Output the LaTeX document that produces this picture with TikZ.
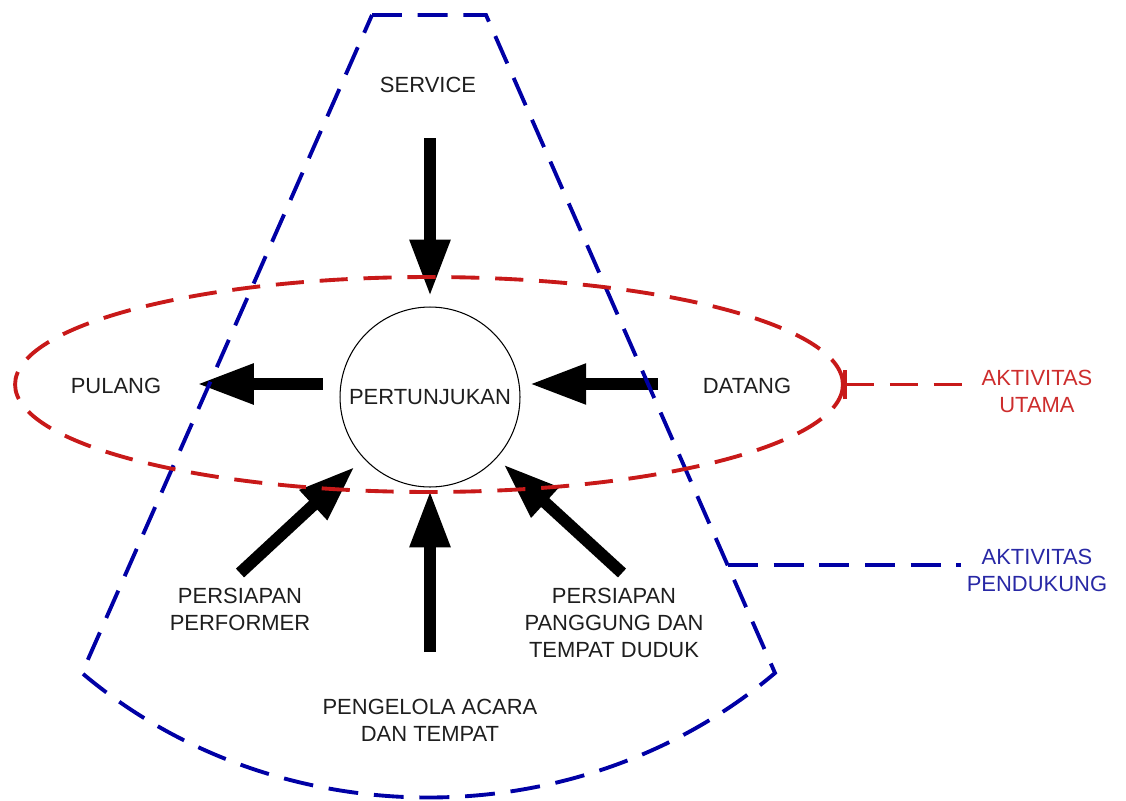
\documentclass[tikz,border=0pt]{standalone}
\usepackage{fontspec}
\setmainfont{Liberation Sans}
\usetikzlibrary{arrows.meta, positioning, shapes.geometric}
\definecolor{birutua}{RGB}{0,0,165}
\definecolor{merahtua}{RGB}{200,25,25}
\definecolor{teksabu}{RGB}{30,30,30}
\definecolor{labelmerah}{RGB}{205,45,45}
\definecolor{labelbiru}{RGB}{40,40,165}

\begin{document}
\begin{tikzpicture}[
  x=0.02cm, y=-0.02cm,
  every node/.style = {font=\fontsize{12.5}{15.3}\selectfont, text=teksabu, align=center},
  garisbiru/.style = {draw=birutua, line width=2.2pt, dash pattern=on 17pt off 9pt},
  garismerah/.style = {draw=merahtua, line width=2.2pt, dash pattern=on 16pt off 9pt},
  panah/.style = {line width=6.8pt, -{Triangle[length=32.3pt, width=21.5pt]}}
]
\useasboundingbox (0,0) rectangle (1126,801);

% pusat
\node[circle, draw=black, line width=0.6pt, minimum size=3.6cm, inner sep=0pt] (pertunjukan) at (430,397) {PERTUNJUKAN};

% teks aktivitas
\node (service)   at (428,85)  {SERVICE};
\node (pulang)    at (116,386) {PULANG};
\node (datang)    at (747,386) {DATANG};
\node (performer) at (240,609) {PERSIAPAN\\PERFORMER};
\node (panggung)  at (614,623) {PERSIAPAN\\PANGGUNG DAN\\TEMPAT DUDUK};
\node (pengelola) at (430,720) {PENGELOLA ACARA\\DAN TEMPAT};

\node[text=labelmerah] (labelUtama)     at (1037,391) {AKTIVITAS\\UTAMA};
\node[text=labelbiru]  (labelPendukung) at (1037,570) {AKTIVITAS\\PENDUKUNG};

% ujung panah
\coordinate (ekorService)   at (430,138);
\coordinate (ujungPulang)   at (197,384);
\coordinate (ekorDatang)    at (658,384);
\coordinate (ekorPerformer) at (240,573);
\coordinate (ekorPanggung)  at (622,573);
\coordinate (ekorPengelola) at (430,652);

\draw[panah, shorten >=5.7pt] (ekorService) -- (pertunjukan);
\draw[panah, shorten <=9.6pt] (pertunjukan.west |- ujungPulang) -- (ujungPulang);
\draw[panah, shorten >=5.1pt] (ekorDatang) -- (pertunjukan.east |- ekorDatang);
\draw[panah, shorten >=6.8pt] (ekorPerformer) -- (pertunjukan);
\draw[panah, shorten >=5.1pt] (ekorPanggung) -- (pertunjukan);
\draw[panah, shorten >=1.7pt] (ekorPengelola) -- (pertunjukan);

% aktivitas pendukung
\draw[garisbiru, line join=miter] (372,15) -- (486,15) -- (775,673)
  .. controls (579,839) and (278,839) .. (82,673) -- cycle;

% aktivitas utama
\node[ellipse, garismerah, minimum width=16.56cm, minimum height=4.3cm,
  inner sep=0pt, outer sep=0pt] (utama) at (429,384.5) {};

\draw[garismerah, {Bar[width=17pt]}-, shorten >=5.7pt] (utama.east) -- (labelUtama.west |- utama.east);
\coordinate (sisiKanan) at (728,565);
\draw[garisbiru] (sisiKanan) -- (labelPendukung.west |- sisiKanan);

\end{tikzpicture}
\end{document}
